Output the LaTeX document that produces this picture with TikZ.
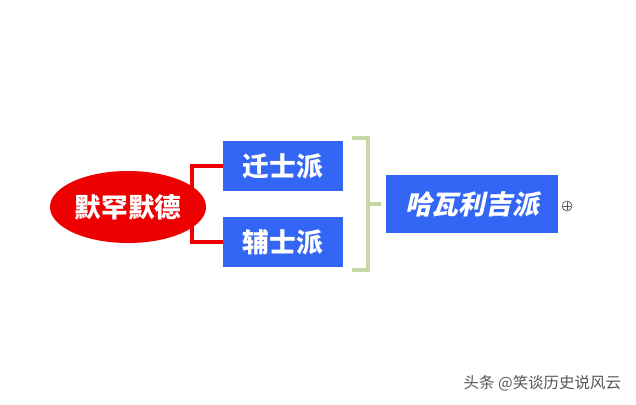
\documentclass[tikz,border=0pt]{standalone}
\usepackage{fontspec}
\usepackage{tikz}
\usetikzlibrary{shapes.geometric, backgrounds}
\newfontfamily\cjk{Noto Sans CJK SC}
\newfontfamily\cjkslant{Noto Sans CJK SC}[FakeSlant=0.22]
\definecolor{mapBlue}{HTML}{3366F5}
\definecolor{mapRed}{HTML}{EC0000}
\definecolor{mapGreen}{HTML}{C5D8A2}
\definecolor{markGray}{HTML}{555555}

\begin{document}
\begin{tikzpicture}[
  x=0.025cm, y=-0.025cm,
  root/.style={ellipse, fill=mapRed, minimum width=3.9cm,
               minimum height=1.8cm, inner sep=0pt, text=white, font=\cjk\bfseries\fontsize{19}{21}\selectfont},
  branch/.style={rectangle, fill=mapBlue, minimum width=3cm,
                 minimum height=1.25cm, inner sep=0pt, text=white, font=\cjk\bfseries\fontsize{19}{21}\selectfont},
  sect/.style={rectangle, fill=mapBlue, minimum width=4.275cm,
               minimum height=1.45cm, inner sep=0pt, text=white, font=\cjkslant\bfseries\fontsize{19}{21}\selectfont},
  redline/.style={draw=mapRed, line width=3pt},
  bracket/.style={draw=mapGreen, line width=3pt},
  plus/.style={circle, draw=markGray, line width=0.5pt, minimum size=0.25cm, inner sep=0pt}
]
\useasboundingbox (0,0) rectangle (636,404);

\node[root] (mohammed) at (128,207) {默罕默德};
\node[branch] (qian) at (283,166) {迁士派};
\node[branch] (fu) at (283,242) {辅士派};
\node[sect] (khawarij) at (472,204) {哈瓦利吉派};
\node[plus] (expand) at (567,206) {};
\draw[markGray, line width=0.5pt] ([xshift=-2.6]expand.center) -- ([xshift=2.6]expand.center)
  ([yshift=-2.6]expand.center) -- ([yshift=2.6]expand.center);

\begin{scope}[on background layer]
  \draw[redline] (qian.west) -- ++(-31,0) |- (fu.west);
\end{scope}

% bracket joining both branches
\coordinate (brtop) at (352,138);
\coordinate (brbot) at (352,270);
\draw[bracket] (brtop) -- ++(16,0) |- (brbot);
\draw[bracket] (368,204) -- ([xshift=-4]khawarij.west);

\node[text=markGray, font=\cjk\fontsize{11}{13}\selectfont, anchor=east] (credit) at (626,383) {头条 @笑谈历史说风云};

\end{tikzpicture}
\end{document}
